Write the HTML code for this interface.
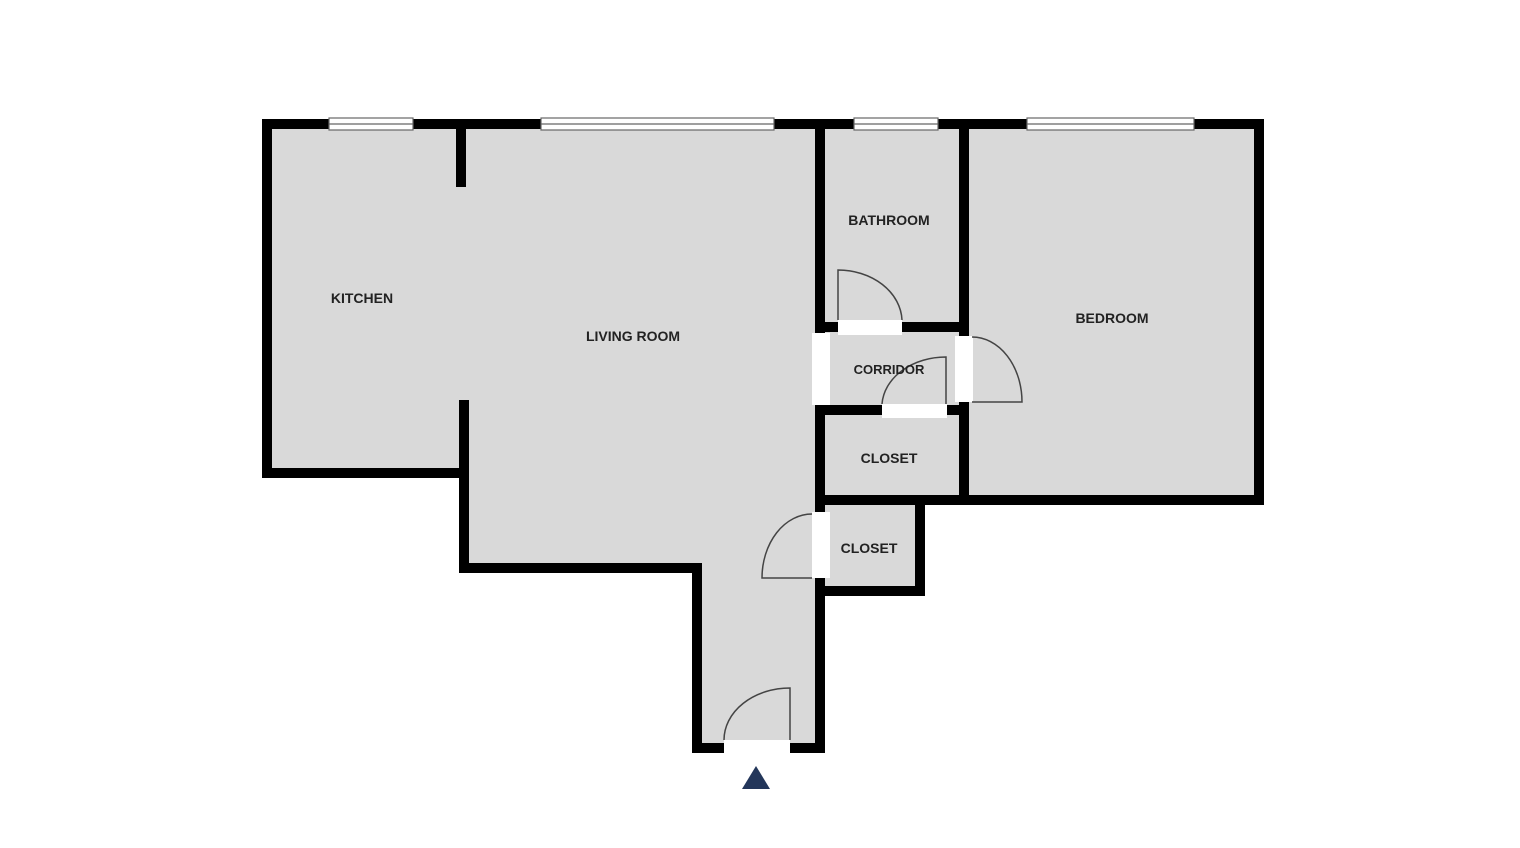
<!DOCTYPE html>
<html><head><style>
html,body{margin:0;padding:0;background:#fff;}
svg{display:block}
text{font-family:"Liberation Sans",sans-serif;font-weight:bold;font-size:14px;fill:#222;text-anchor:middle}
</style></head><body>
<svg width="1520" height="848" viewBox="0 0 1520 848">
<!-- floor fill -->
<polygon points="267,124 1259,124 1259,500 920,500 920,591 820,591 820,748 697,748 697,568 464,568 464,473 267,473" fill="#d9d9d9"/>
<g stroke="#000" stroke-width="10" fill="none" stroke-linecap="square">
<polyline points="267,473 267,124 1259,124 1259,500 820,500"/>
<polyline points="920,500 920,591 820,591 820,748 790,748"/>
<polyline points="724,748 697,748 697,568 464,568 464,405"/>
<polyline points="464,473 267,473"/>
<line x1="461" y1="124" x2="461" y2="182"/>
<line x1="820" y1="124" x2="820" y2="591"/>
<line x1="964" y1="124" x2="964" y2="500"/>
<line x1="820" y1="327" x2="964" y2="327"/>
<line x1="820" y1="410" x2="964" y2="410"/>
</g>
<!-- openings -->
<g fill="#fff">
<rect x="812" y="333" width="18" height="72"/>
<rect x="955" y="336" width="18" height="66"/>
<rect x="812" y="512" width="18" height="66"/>
<rect x="838" y="320" width="64" height="15"/>
<rect x="882" y="404" width="65" height="14"/>
<rect x="724" y="740" width="66" height="14"/>
</g>
<!-- windows -->
<g fill="#fff" stroke="#666" stroke-width="1.2">
<rect x="329" y="118" width="84" height="12"/><line x1="329" y1="124" x2="413" y2="124"/>
<rect x="541" y="118" width="233" height="12"/><line x1="541" y1="124" x2="774" y2="124"/>
<rect x="854" y="118" width="84" height="12"/><line x1="854" y1="124" x2="938" y2="124"/>
<rect x="1027" y="118" width="167" height="12"/><line x1="1027" y1="124" x2="1194" y2="124"/>
</g>
<!-- doors -->
<g stroke="#444" stroke-width="1.5" fill="none">
<path d="M838,320 L838,270 A64,52 0 0 1 902,320"/>
<path d="M946,404 L946,357 A64,50 0 0 0 882,404"/>
<path d="M972,402 L1022,402 A50,65 0 0 0 972,337"/>
<path d="M812,578 L762,578 A50,64 0 0 1 812,514"/>
<path d="M790,740 L790,688 A66,52 0 0 0 724,740"/>
</g>
<polygon points="742,789 770,789 756,766" fill="#23365a"/>
<text x="362" y="303">KITCHEN</text>
<text x="633" y="341">LIVING ROOM</text>
<text x="889" y="225">BATHROOM</text>
<text x="1112" y="323">BEDROOM</text>
<text x="889" y="374" style="font-size:13px">CORRIDOR</text>
<text x="889" y="463">CLOSET</text>
<text x="869" y="553">CLOSET</text>
</svg>
</body></html>
